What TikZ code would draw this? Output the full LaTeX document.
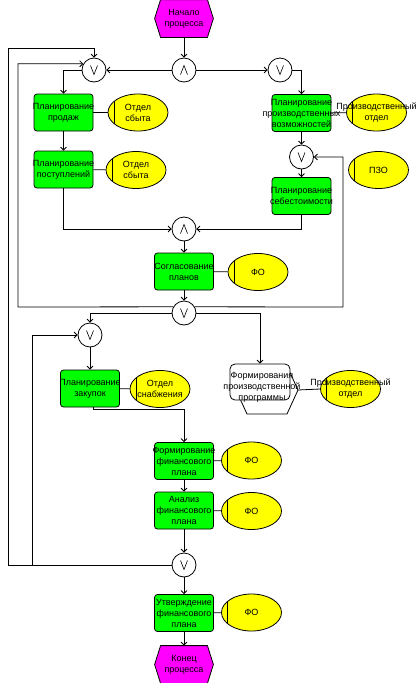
\documentclass[tikz,border=0pt]{standalone}
\usepackage{fontspec}
\setmainfont{Liberation Sans}
\usetikzlibrary{shapes.geometric,arrows.meta,calc}
\definecolor{fgreen}{RGB}{0,255,0}
\definecolor{eyellow}{RGB}{255,255,0}
\definecolor{evmag}{RGB}{255,0,255}
\newcommand\mkfn[4]{\node[fbox] (#1) at (#2,#3) {};\node[txt] at (#1) {#4};}
\newcommand\mkel[4]{\node[ebox] (#1) at (#2,#3) {};\node[txt] at (#1) {#4};}
\newcommand\mkev[4]{%
  \node[minimum width=58pt,minimum height=37pt,inner sep=0pt] (#1) at (#2,#3) {};
  \filldraw[fill=evmag] ([xshift=6pt]#1.north west) -- ([xshift=-6pt]#1.north east) -- (#1.east)
    -- ([xshift=-6pt]#1.south east) -- ([xshift=6pt]#1.south west) -- (#1.west) -- cycle;
  \node[txt] at (#1) {#4};}
\begin{document}
\begin{tikzpicture}[x=1pt,y=-1pt,line width=0.8pt,
  txt/.style={font=\fontsize{9}{11}\selectfont,align=center,inner sep=0pt},
  fbox/.style={draw,rounded corners=3pt,fill=fgreen,minimum width=59pt,minimum height=37pt,inner sep=0pt},
  ebox/.style={ellipse,draw,fill=eyellow,minimum width=60pt,minimum height=37pt,inner sep=0pt,
    path picture={\draw ($(path picture bounding box.west)+(6pt,-20pt)$) -- ++(0pt,40pt);}},
  gate/.style={circle,draw,fill=white,minimum size=24pt,inner sep=0pt},
  orgate/.style={gate,path picture={\draw[line width=0.6pt]
    ($(path picture bounding box.center)+(-3.5pt,4.5pt)$) -- ($(path picture bounding box.center)+(0pt,-4.5pt)$)
    -- ($(path picture bounding box.center)+(3.5pt,4.5pt)$);}},
  andgate/.style={gate,path picture={\draw[line width=0.6pt]
    ($(path picture bounding box.center)+(-3.5pt,-4.5pt)$) -- ($(path picture bounding box.center)+(0pt,4.5pt)$)
    -- ($(path picture bounding box.center)+(3.5pt,-4.5pt)$);}},
  arr/.style={-{Straight Barb[length=3pt,width=6pt]}}]
\useasboundingbox (0,0) rectangle (419,683);

% events
\mkev{start}{184}{18.5}{Начало\\процесса}
\mkev{finish}{184}{664.5}{Конец\\процесса}

% gates
\node[andgate] (and1) at (184,70) {};
\node[orgate] (or1) at (94,70) {};
\node[orgate] (or2) at (280,70) {};
\node[orgate] (or3) at (301.5,157) {};
\node[andgate] (and2) at (184,229) {};
\node[orgate] (or4) at (184,313) {};
\node[orgate] (or5) at (90,335) {};
\node[orgate] (or6) at (184,565) {};

% functions and org units
\mkfn{f1}{63.5}{112.5}{Планирование\\продаж}
\mkel{e1}{138}{112.5}{Отдел\\сбыта}
\mkfn{f2}{301.5}{113}{Планирование\\производственных\\возможностей}
\mkel{e2}{376.5}{112.5}{Производственный\\отдел}
\mkfn{f3}{63.5}{169.5}{Планирование\\поступлений}
\mkel{e3}{136}{170}{Отдел\\сбыта}
\mkel{e4}{378.5}{170}{ПЗО}
\mkfn{f4}{301.5}{196}{Планирование\\себестоимости}
\mkfn{f5}{184}{271.5}{Согласование\\планов}
\mkel{e5}{258}{272}{ФО}
\mkfn{f6}{90}{388.5}{Планирование\\закупок}
\mkel{e6}{160}{389}{Отдел\\снабжения}
\filldraw[fill=white] (236,390) -- (247,366) -- (287,366) -- (298,390) -- (287,414) -- (247,414) -- cycle;
\coordinate (f7r) at (298,390);
\node[draw,rounded corners=5pt,fill=white,minimum width=60pt,minimum height=36pt,inner sep=0pt] (f7) at (260,382) {};
\node[txt] at (262,387) {Формирования\\производственной\\программы};
\mkel{e7}{350.5}{389}{Производственный\\отдел}
\mkfn{f8}{184}{461}{Формирование\\финансового\\плана}
\mkel{e8}{251.5}{460.5}{ФО}
\mkfn{f9}{184}{510.5}{Анализ\\финансового\\плана}
\mkel{e9}{251.5}{511}{ФО}
\mkfn{f10}{184}{613}{Утверждение\\финансового\\плана}
\mkel{e10}{251.5}{612.5}{ФО}

% loop coordinates
\coordinate (lpL) at (18,307);
\coordinate (lpR) at (343,307);
\coordinate (b8) at (8,565);
\coordinate (t8) at (8,48);
\coordinate (b32) at (32,565);

% connectors
\draw[arr] (start) -- (and1);
\draw[arr] (and1) -- (or1);
\draw[arr] (and1) -- (or2);
\draw[arr] (or1.west) -| (f1.north);
\draw[arr] (or2.east) -| (f2.north);
\draw (f1) -- (e1);
\draw (f2) -- (e2);
\draw (f3) -- (e3);
\draw[arr] (f1) -- (f3);
\draw[arr] (f2) -- (or3);
\draw[arr] (or3) -- (f4);
\draw[arr] (f3.south) |- (and2.west);
\draw[arr] (f4.south) |- (and2.east);
\draw[arr] (and2) -- (f5);
\draw (f5) -- (e5);
\draw[arr] (f5) -- (or4);
\draw[arr] (or4.150) -- (lpL) |- (or1.150);
\draw[arr] (or4.30) -- (lpR) |- (or3.east);
\draw[arr] (or4.west) -| (or5.north);
\draw[arr] (or4.east) -| (f7.north);
\draw[arr] (or5) -- (f6);
\draw (f6) -- (e6);
\draw[arr] ([xshift=3pt]f6.south) -- ++(0,2) -| (f8.north);
\draw (f7r) -- (e7.west);
\draw (f8) -- (e8);
\draw[arr] (f8) -- (f9);
\draw (f9) -- (e9);
\draw[arr] (f9) -- (or6);
\draw[arr] (or6) -- (f10);
\draw (f10) -- (e10);
\draw[arr] (f10) -- (finish);
\draw[arr] (or6.west) -- (b8) -- (t8) -| (or1.north);
\draw[arr] (b32) |- (or5.west);
\end{tikzpicture}
\end{document}
